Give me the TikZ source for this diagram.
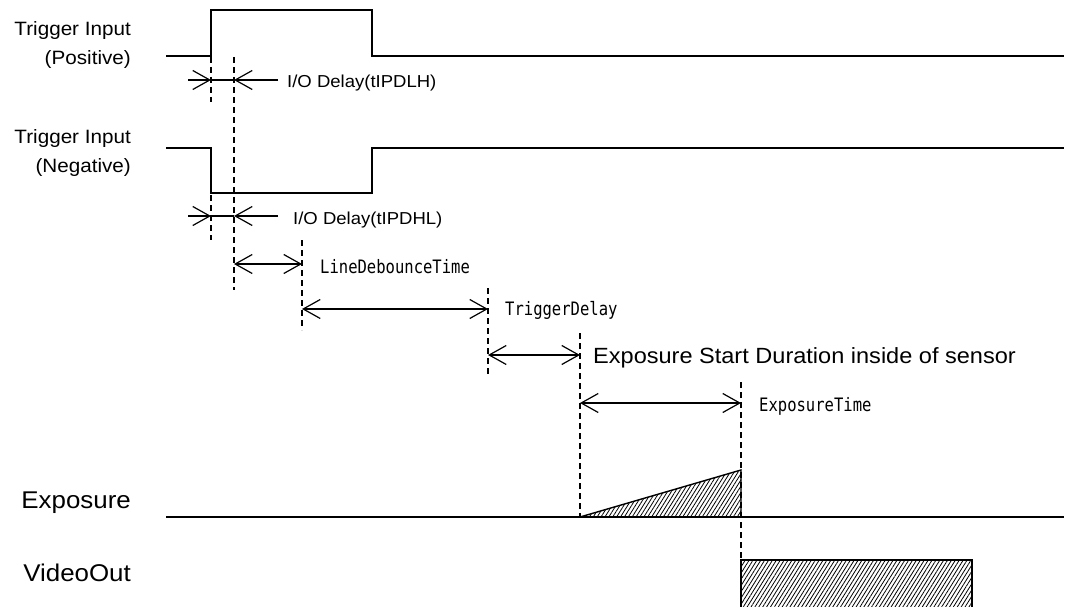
\documentclass[tikz,border=0pt]{standalone}
\usepackage{fontspec}
\setmainfont{Liberation Sans}
\newfontfamily\sansw[FakeStretch=1.07]{Liberation Sans}
\newfontfamily\monow[FakeStretch=0.84]{DejaVu Sans Mono}
\usetikzlibrary{arrows.meta,patterns.meta}
\tikzset{
  sig/.style={line width=1.4pt},
  guide/.style={line width=1.1pt, dash pattern=on 6pt off 4pt},
  dimline/.style={line width=1.2pt},
  barb/.style={dimline,-{Straight Barb[length=17pt,width=19pt]}},
  dbl/.style={dimline,{Straight Barb[length=17pt,width=19pt]}-{Straight Barb[length=17pt,width=19pt]}},
  siglabel/.style={anchor=base east, inner sep=0pt, font=\sansw\fontsize{19.3}{21}\selectfont},
  biglabel/.style={anchor=base east, inner sep=0pt, font=\sansw\fontsize{24.2}{26}\selectfont},
  iolabel/.style={anchor=base west, inner sep=0pt, font=\sansw\fontsize{17.3}{19}\selectfont},
  monolabel/.style={anchor=base west, inner sep=0pt, font=\monow\fontsize{18.5}{20}\selectfont},
  hatch/.style={pattern={Lines[angle=58,distance=3.3pt,line width=0.8pt]}}
}
\begin{document}
\begin{tikzpicture}[x=1pt,y=-1pt]
\useasboundingbox (0,0) rectangle (1066,607);

% labels on the left
\node[siglabel] (tp1) at (131,36) {Trigger Input};
\node[siglabel] (tp2) at (131,65) {(Positive)};
\node[siglabel] (tn1) at (131,144) {Trigger Input};
\node[siglabel] (tn2) at (131,173) {(Negative)};
\node[biglabel] (lexp) at (131,508) {Exposure};
\node[biglabel] (lvid) at (131,581) {VideoOut};

% positive trigger
\draw[sig] (166,56) -- (211,56) -- (211,10) -- (372,10) -- (372,56) -- (1064,56);
% negative trigger
\draw[sig] (166,148) -- (211,148) -- (211,193) -- (372,193) -- (372,148) -- (1064,148);

% exposure signal
\path[hatch] (580,517) -- (741,470) -- (741,517) -- cycle;
\draw[sig] (166,517) -- (1064,517);
\draw[sig] (580,517) -- (741,470) -- (741,517);

% video out
\path[hatch] (741,560) rectangle (972,607);
\draw[sig] (741,607) -- (741,560) -- (972,560) -- (972,607);

% dashed guides
\draw[guide] (211,57) -- (211,102);
\draw[guide] (234,57) -- (234,290);
\draw[guide] (211,195) -- (211,240);
\draw[guide] (302,240) -- (302,330);
\draw[guide] (488,288) -- (488,377);
\draw[guide] (580,333) -- (580,517);
\draw[guide] (741,382) -- (741,607);

% I/O delay positive
\coordinate (p0) at (188,80);
\coordinate (p1) at (211,80);
\coordinate (p2) at (234,80);
\coordinate (p3) at (278,80);
\draw[barb] (p0) -- (p1);
\draw[dimline] (p1) -- (p2);
\draw[barb] (p3) -- (p2);
\node[iolabel] (iop) at (287,88) {I/O Delay(tIPDLH)};

% I/O delay negative
\coordinate (n0) at (188,216);
\coordinate (n1) at (211,216);
\coordinate (n2) at (234,216);
\coordinate (n3) at (278,216);
\draw[barb] (n0) -- (n1);
\draw[dimline] (n1) -- (n2);
\draw[barb] (n3) -- (n2);
\node[iolabel] (ion) at (293,224) {I/O Delay(tIPDHL)};

% line debounce
\coordinate (d0) at (234,264);
\coordinate (d1) at (302,264);
\draw[dbl] (d0) -- (d1);
\node[monolabel] (ldt) at (320,273) {LineDebounceTime};

% trigger delay
\coordinate (t0) at (302,309);
\coordinate (t1) at (488,309);
\draw[dbl] (t0) -- (t1);
\node[monolabel] (tdl) at (505,315) {TriggerDelay};

% exposure start duration
\coordinate (e0) at (488,355);
\coordinate (e1) at (580,355);
\draw[dbl] (e0) -- (e1);
\node[iolabel, font=\sansw\fontsize{22}{24}\selectfont] (esd) at (593,363) {Exposure Start Duration inside of sensor};

% exposure time
\coordinate (x0) at (580,403);
\coordinate (x1) at (741,403);
\draw[dbl] (x0) -- (x1);
\node[monolabel] (ext) at (759,411) {ExposureTime};
\end{tikzpicture}
\end{document}
